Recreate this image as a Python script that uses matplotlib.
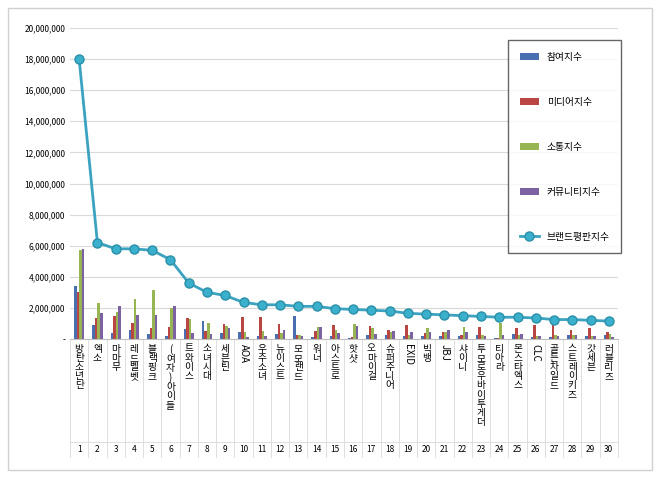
import matplotlib
matplotlib.use("Agg")
import matplotlib.pyplot as plt
import numpy as np

plt.rcParams["font.family"] = ["Noto Sans CJK KR", "DejaVu Sans"]

names = ["방탄소년단","엑소","마마무","레드벨벳","블랙핑크","(여자)아이들","트와이스","소녀시대","세븐틴","AOA",
         "우주소녀","뉴이스트","모모랜드","워너","아스트로","핫샷","오마이걸","슈퍼주니어","EXID","빅뱅",
         "JBJ","샤이니","투모로우바이투게더","티아라","몬스타엑스","CLC","골든차일드","스트레이키즈","갓세븐","러블리즈"]
participation = [3.4,0.87,0.38,0.57,0.3,0.2,0.64,1.13,0.38,0.43,0.2,0.32,1.47,0.13,0.2,
                 0.05,0.25,0.25,0.17,0.17,0.17,0.17,0.25,0.06,0.3,0.13,0.13,0.25,0.2,0.25]
media = [3.0,1.34,1.5,1.06,0.7,0.74,1.34,0.5,0.94,1.4,1.4,0.94,0.25,0.49,0.9,
         0.1,0.83,0.6,0.87,0.38,0.47,0.23,0.77,0.06,0.68,0.91,0.9,0.6,0.68,0.47]
communication = [5.7,2.3,1.72,2.55,3.13,2.0,1.26,1.06,0.83,0.43,0.5,0.38,0.25,0.8,0.57,
                 0.96,0.68,0.47,0.25,0.68,0.43,0.79,0.23,1.04,0.25,0.2,0.25,0.25,0.17,0.34]
community = [5.8,1.64,2.15,1.53,1.57,2.13,0.36,0.3,0.68,0.13,0.2,0.57,0.17,0.77,0.38,
             0.83,0.3,0.5,0.47,0.47,0.57,0.47,0.2,0.25,0.34,0.2,0.2,0.25,0.2,0.13]
brand = [18.0,6.2,5.8,5.8,5.7,5.1,3.6,3.0,2.8,2.35,2.2,2.2,2.1,2.1,1.95,
         1.9,1.85,1.8,1.65,1.6,1.55,1.5,1.45,1.4,1.4,1.35,1.25,1.25,1.2,1.15]
series_names = ["참여지수","미디어지수","소통지수","커뮤니티지수","브랜드평판지수"]
yticks = [0,2e6,4e6,6e6,8e6,10e6,12e6,14e6,16e6,18e6,20e6]

fig = plt.figure(figsize=(6.6,4.8), dpi=100)
fig.patches.append(plt.Rectangle((8/660,10/480),644/660,462/480,transform=fig.transFigure,
                                 fill=False,edgecolor="#d0d0d0",lw=1))
ax = fig.add_axes([70/660, 1-339/480, 548/660, 311/480])
x = np.arange(1, 31)
w = 0.14
cols = ["#4a6fb0","#b94643","#97b552","#7c62a2"]
handles = []
for i,(vals,c) in enumerate(zip([participation,media,communication,community],cols)):
    handles.append(ax.bar(x+(i-1.5)*w, np.array(vals)*1e6, w, color=c, label=series_names[i], zorder=2))
ln, = ax.plot(x, np.array(brand)*1e6, color="#3ba3bf", lw=2, marker="o", ms=6.5,
        markerfacecolor="#3bb0cc", markeredgecolor="#2a90aa", label=series_names[4], zorder=3)
handles.append(ln)
ax.set_xlim(0.5, 30.5)
ax.set_ylim(0, 20e6)
ax.set_yticks(yticks)
ax.set_yticklabels(["-"]+[f"{int(v):,}" for v in yticks[1:]], fontsize=6)
ax.grid(axis="y", color="#d9d9d9", lw=0.8, zorder=0)
ax.set_xticks([])
for s in ["top","right","left"]:
    ax.spines[s].set_visible(False)
ax.spines["bottom"].set_color("#bfbfbf")
ax.tick_params(axis="y", length=0)
for xi, n in zip(x, names):
    ax.text(xi, -0.3e6, "\n".join(n) if not n.isascii() else n, ha="center", va="top",
            fontsize=7, linespacing=0.9, rotation=0 if not n.isascii() else 270)
    ax.text(xi, -7.1e6, str(xi), ha="center", va="center", fontsize=6)
for xb in np.arange(0.5, 31, 1):
    ax.plot([xb,xb],[0,-7.6e6], color="#d9d9d9", lw=0.6, clip_on=False)
ax.plot([0.5,30.5],[-6.6e6,-6.6e6], color="#d9d9d9", lw=0.6, clip_on=False)
ax.legend(handles=handles, labels=series_names, loc="upper left", bbox_to_anchor=(433/548, 1-7/311),
          fontsize=7, frameon=True, fancybox=False, edgecolor="#404040", labelspacing=3.6,
          borderpad=1.2, handlelength=2)
fig.savefig("out.png", dpi=100)
